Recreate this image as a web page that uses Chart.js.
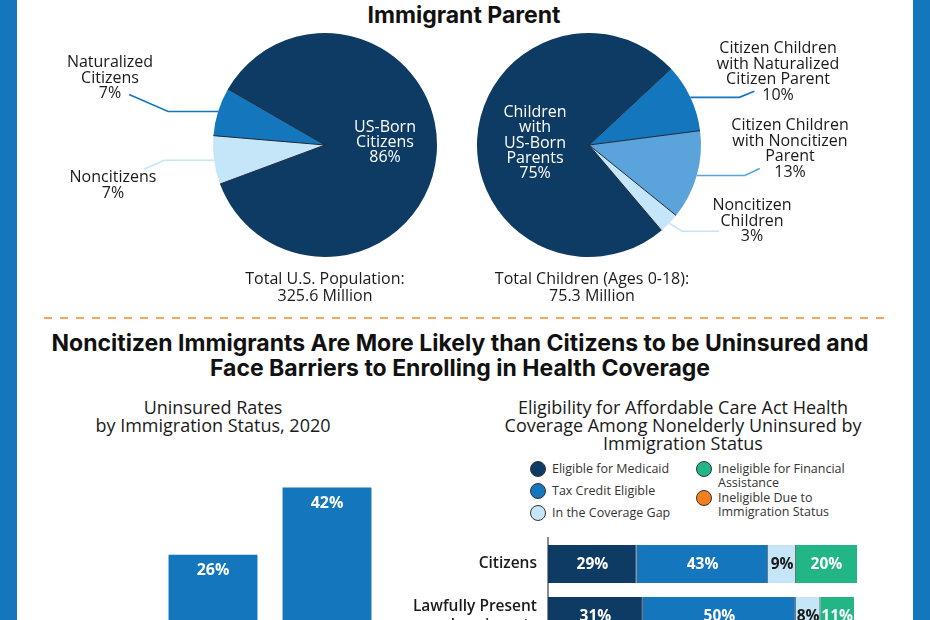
<!DOCTYPE html>
<html>
<head>
<meta charset="utf-8">
<script src="https://cdn.jsdelivr.net/npm/chart.js@4.4.1/dist/chart.umd.min.js"></script>
<style>
    html, body { margin: 0; padding: 0; }
    body {
        width: 930px; height: 620px; overflow: hidden; position: relative;
        background: #fff; font-family: 'Open Sans', sans-serif; color: #1a1a1a;
    }
    .band { position: absolute; top: 0; width: 17px; height: 620px; background: #1477bd; }
    .txt { position: absolute; transform: translateX(-50%); text-align: center; white-space: nowrap; }
    .lbl { font-size: 16px; line-height: 15.5px; }
    .white { color: #fff; }
    .head { font-family: Inter, sans-serif; font-weight: 700; color: #111; font-size: 23px; }
    .sub { font-size: 18px; line-height: 18px; color: #1a1a1a; }
    canvas { position: absolute; }
    #dash {
        position: absolute; left: 44px; top: 317px; width: 842px; height: 2px;
        background: repeating-linear-gradient(to right, #f6a35c 0 8px, transparent 8px 16px);
    }
    .leg { position: absolute; font-size: 12.5px; line-height: 13.5px; color: #333; }
    .leg .dot {
        position: absolute; left: -8px; top: -8px; width: 14px; height: 14px;
        border-radius: 50%; border: 1px solid #333;
    }
    .leg .name { position: absolute; left: 14px; top: -7px; width: 135px; }
</style>
</head>
<body>
<div class="band" style="left:0"></div>
<div class="band" style="left:913px"></div>

<div class="txt head" style="left:464px; top:3px; line-height:24px;">Immigrant Parent</div>

<canvas id="popPie" width="448" height="280" style="left:17px; top:30px;"></canvas>
<canvas id="kidsPie" width="448" height="280" style="left:465px; top:30px;"></canvas>

<div class="txt lbl white" style="left:385px; top:119px; line-height:15px;">US-Born<br>Citizens<br>86%</div>
<div class="txt lbl" style="left:110px; top:54px;">Naturalized<br>Citizens<br>7%</div>
<div class="txt lbl" style="left:113px; top:169px;">Noncitizens<br>7%</div>
<div class="txt lbl" style="left:325px; top:270px; line-height:17px;">Total U.S. Population:<br>325.6 Million</div>

<div class="txt lbl white" style="left:535px; top:104px; line-height:15.3px;">Children<br>with<br>US-Born<br>Parents<br>75%</div>
<div class="txt lbl" style="left:778px; top:40px; line-height:15.6px;">Citizen Children<br>with Naturalized<br>Citizen Parent<br>10%</div>
<div class="txt lbl" style="left:790px; top:117px; line-height:15.6px;">Citizen Children<br>with Noncitizen<br>Parent<br>13%</div>
<div class="txt lbl" style="left:752px; top:197px;">Noncitizen<br>Children<br>3%</div>
<div class="txt lbl" style="left:592px; top:270px; line-height:17px;">Total Children (Ages 0-18):<br>75.3 Million</div>

<div id="dash"></div>

<div class="txt head" style="left:460px; top:331px; line-height:25px;">Noncitizen Immigrants Are More Likely than Citizens to be Uninsured and<br>Face Barriers to Enrolling in Health Coverage</div>

<div class="txt sub" style="left:213px; top:398px;">Uninsured Rates<br>by Immigration Status, 2020</div>
<div class="txt sub" style="left:683px; top:398px;">Eligibility for Affordable Care Act Health<br>Coverage Among Nonelderly Uninsured by<br>Immigration Status</div>

<div id="legend"></div>

<canvas id="rateBar" width="448" height="300" style="left:17px; top:440px;"></canvas>
<canvas id="eligBar" width="513" height="180" style="left:400px; top:530px;"></canvas>

<script>
// population by citizenship status (pie 1)
const popLabels = ['US-Born Citizens', 'Noncitizens', 'Naturalized Citizens'];
const popValues = [86, 7, 7];

// children by parents' citizenship (pie 2)
const kidsLabels = ['Citizen Children with Naturalized Citizen Parent', 'Citizen Children with Noncitizen Parent',
    'Noncitizen Children', 'Children with US-Born Parents'];
const kidsValues = [10, 13, 3, 75];

// uninsured rates, 2020
const statusLabels = ['Citizens', 'Lawfully Present Immigrants', 'Undocumented Immigrants'];
const uninsuredRates = [8, 26, 42];

// ACA eligibility among nonelderly uninsured
const eligRows = [['Citizens'], ['Lawfully Present', 'Immigrants'], ['Undocumented', 'Immigrants']];
const seriesNames = ['Eligible for Medicaid', 'Tax Credit Eligible', 'In the Coverage Gap',
    'Ineligible for Financial Assistance', 'Ineligible Due to Immigration Status'];
const medicaid = [29, 31, 0];
const taxCredit = [43, 50, 0];
const coverageGap = [9, 8, 0];
const ineligFinancial = [20, 11, 0];
const ineligImmigration = [0, 0, 100];

const NAVY = '#0e3b63', BLUE = '#1476bd', MID = '#5aa3db', LIGHT = '#c5e5f8',
      GREEN = '#22b585', ORANGE = '#f47f20';

Chart.defaults.font.family = "'Open Sans', sans-serif";
Chart.defaults.responsive = false;
Chart.defaults.animation = false;
Chart.defaults.plugins.legend.display = false;
Chart.defaults.plugins.tooltip.enabled = false;

// thin radial separators + leader lines going out to the labels
const pieLines = {
    id: 'pieLines',
    afterDatasetsDraw(chart, args, opts) {
        const ctx = chart.ctx;
        const arcs = chart.getDatasetMeta(0).data;
        ctx.save();
        ctx.strokeStyle = '#1c2733';
        ctx.lineWidth = 1;
        arcs.forEach(a => {
            ctx.beginPath();
            ctx.moveTo(a.x, a.y);
            ctx.lineTo(a.x + Math.cos(a.startAngle) * a.outerRadius, a.y + Math.sin(a.startAngle) * a.outerRadius);
            ctx.stroke();
        });
        ctx.lineWidth = 1.6;
        (opts.lines || []).forEach(l => {
            const a = arcs[l.index];
            const mid = (a.startAngle + a.endAngle) / 2;
            let x = a.x + Math.cos(mid) * a.outerRadius;
            let y = a.y + Math.sin(mid) * a.outerRadius;
            ctx.strokeStyle = l.color;
            ctx.beginPath();
            ctx.moveTo(x, y);
            l.path.forEach(p => { x += p[0]; y += p[1]; ctx.lineTo(x, y); });
            ctx.stroke();
        });
        ctx.restore();
    }
};

new Chart(document.getElementById('popPie'), {
    type: 'pie',
    data: {
        labels: popLabels,
        datasets: [{ data: popValues, backgroundColor: [NAVY, LIGHT, BLUE], borderWidth: 0 }]
    },
    options: {
        rotation: 300,
        layout: { padding: { left: 196, right: 28, top: 3, bottom: 53 } },
        plugins: {
            pieLines: { lines: [
                { index: 2, color: BLUE, path: [[-50, 0], [-39, -17]] },
                { index: 1, color: LIGHT, path: [[-50, 0], [-20, 9]] }
            ] }
        }
    },
    plugins: [pieLines]
});

new Chart(document.getElementById('kidsPie'), {
    type: 'pie',
    data: {
        labels: kidsLabels,
        datasets: [{ data: kidsValues, backgroundColor: [BLUE, MID, LIGHT, NAVY], borderWidth: 0 }]
    },
    options: {
        rotation: 47,
        layout: { padding: { left: 12, right: 212, top: 3, bottom: 53 } },
        plugins: {
            pieLines: { lines: [
                { index: 0, color: BLUE, path: [[49, 0], [15, -6]] },
                { index: 1, color: MID, path: [[48, 0], [15, -7]] },
                { index: 2, color: LIGHT, path: [[13, 8], [37, 0]] }
            ] }
        }
    },
    plugins: [pieLines]
});

// value labels drawn inside the bars
const barLabels = {
    id: 'barLabels',
    afterDatasetsDraw(chart, args, opts) {
        const ctx = chart.ctx;
        ctx.save();
        ctx.textAlign = 'center';
        ctx.textBaseline = 'middle';
        ctx.font = 'bold ' + opts.size + 'px "Open Sans", sans-serif';
        chart.data.datasets.forEach((ds, di) => {
            chart.getDatasetMeta(di).data.forEach((bar, i) => {
                const v = ds.data[i];
                if (!v) return;
                ctx.fillStyle = ds.labelColor || '#fff';
                if (opts.horizontal) {
                    ctx.fillText(v + '%', (bar.x + bar.base) / 2, bar.y + 1);
                } else {
                    ctx.fillText(v + '%', bar.x, bar.y + 16);
                }
            });
        });
        ctx.restore();
    }
};

new Chart(document.getElementById('rateBar'), {
    type: 'bar',
    data: {
        labels: statusLabels,
        datasets: [{ data: uninsuredRates, backgroundColor: BLUE, categoryPercentage: 1, barPercentage: 0.78 }]
    },
    options: {
        layout: { padding: { left: 25, right: 81, top: 14, bottom: 76 } },
        scales: {
            x: { display: false },
            y: { display: false, min: 0, max: 50 }
        },
        plugins: { barLabels: { size: 16 } }
    },
    plugins: [barLabels]
});

const eligColors = [NAVY, BLUE, LIGHT, GREEN, ORANGE];
const eligData = [medicaid, taxCredit, coverageGap, ineligFinancial, ineligImmigration];

new Chart(document.getElementById('eligBar'), {
    type: 'bar',
    data: {
        labels: eligRows,
        datasets: eligData.map((d, k) => ({
            label: seriesNames[k],
            data: d,
            backgroundColor: eligColors[k],
            borderColor: 'rgba(40,40,40,0.85)',
            borderWidth: k < 3 ? { top: 0, right: 1, bottom: 0, left: 0 } : 0,
            borderSkipped: false,
            labelColor: k === 2 ? '#1a1a1a' : '#fff',
            categoryPercentage: 1,
            barPercentage: 0.73
        }))
    },
    options: {
        indexAxis: 'y',
        clip: false,
        layout: { padding: { left: 0, right: 59, top: 8, bottom: 16 } },
        scales: {
            x: { display: false, stacked: true, min: 0, max: 100 },
            y: {
                stacked: true,
                afterFit(scale) {
                    scale.width = 148;
                    scale.paddingTop = 0;
                    scale.paddingBottom = 0;
                },
                grid: { display: false, drawTicks: false },
                border: { display: true, color: '#8c8c8c', width: 2 },
                ticks: { color: '#1a1a1a', padding: 11, font: { size: 15.5, weight: '600' } }
            }
        },
        plugins: { barLabels: { size: 15.5, horizontal: true } }
    },
    plugins: [barLabels]
});

// custom two-column legend for the eligibility chart
const legendSlots = [[538, 469], [538, 491], [538, 513], [704, 469], [704, 498]];
const legendBox = document.getElementById('legend');
seriesNames.forEach((name, k) => {
    const item = document.createElement('div');
    item.className = 'leg';
    item.style.left = legendSlots[k][0] + 'px';
    item.style.top = legendSlots[k][1] + 'px';
    item.innerHTML = '<span class="dot" style="background:' + eligColors[k] + '"></span><span class="name">' + name + '</span>';
    legendBox.appendChild(item);
});
</script>
</body>
</html>
